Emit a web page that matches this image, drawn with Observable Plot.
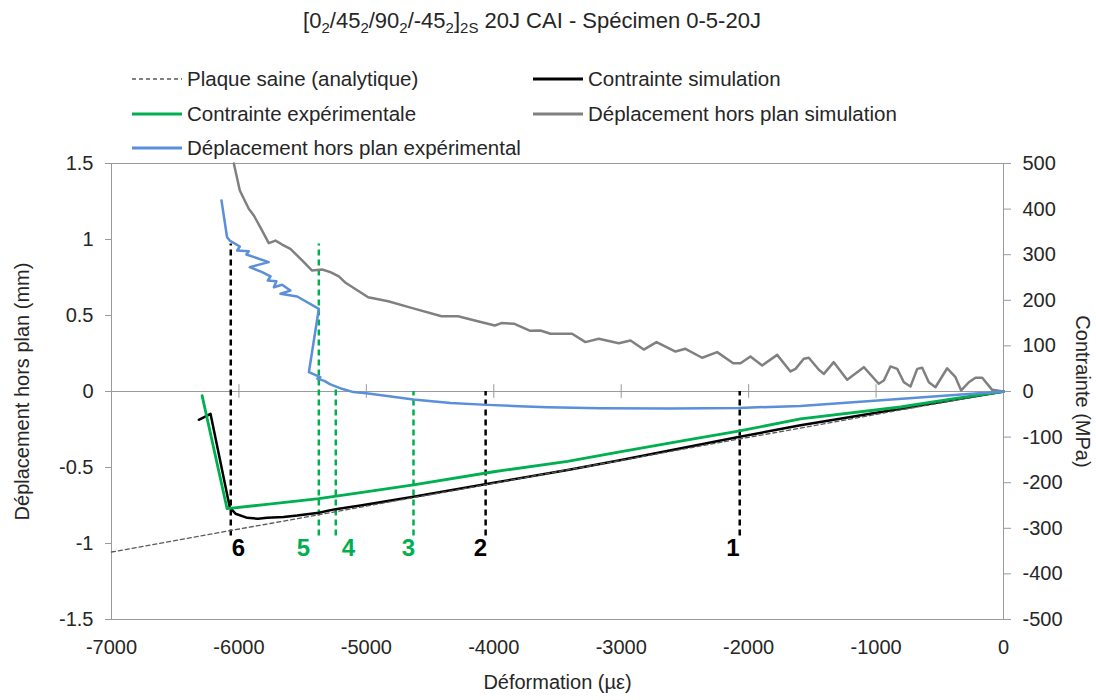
<!DOCTYPE html>
<html><head><meta charset="utf-8">
<script src="https://cdn.jsdelivr.net/npm/d3@7"></script>
<script src="https://cdn.jsdelivr.net/npm/@observablehq/plot@0.6"></script>
<style>
body{margin:0;background:#fff;font-family:"Liberation Sans",Arial,sans-serif;color:#262626;}
#wrap{position:relative;width:1096px;height:700px;overflow:hidden;}
#chart{position:absolute;left:0;top:0;}
#title{position:absolute;left:0;width:1064px;top:8px;text-align:center;font-size:22px;white-space:nowrap;}
#title sub{font-size:15px;vertical-align:-5px;line-height:0;}
.leg{position:absolute;font-size:20.5px;display:flex;align-items:center;white-space:nowrap;height:24px;transform:translateY(-12px);}
.leg svg{margin-right:5px;}
</style></head><body>
<div id="wrap">
<div id="chart"></div>
<div id="title">[0<sub>2</sub>/45<sub>2</sub>/90<sub>2</sub>/-45<sub>2</sub>]<sub>2S</sub> 20J CAI - Spécimen 0-5-20J</div>
<div id="legend"></div>
</div>
<script>
// ---------- data ----------
const xTicks = [-7000, -6000, -5000, -4000, -3000, -2000, -1000, 0];
const dispTicks = [-1.5, -1, -0.5, 0, 0.5, 1, 1.5];
const stressTicks = [-500, -400, -300, -200, -100, 0, 100, 200, 300, 400, 500];

// Plaque saine (analytique) — MPa
const analyticStrain = [-7000, 0];
const analyticStress = [-352, 0];

// Contrainte simulation — MPa
const simStrain = [-6315, -6223, -6072, -6027, -5935, -5850, -5779, -5650, -5543, -5373, -5242, -5046, -4630, -4000, -3421, -3000, -2080, -1593, -808, 0];
const simStress = [-62, -49, -254, -268, -277, -279, -277, -275, -272, -266, -258, -250, -231, -200, -172, -150, -100, -74, -38, 0];

// Contrainte expérimentale — MPa
const expStrain = [-6289, -6093, -5800, -5373, -5046, -4630, -4000, -3421, -3000, -2500, -2080, -1593, -808, -400, 0];
const expStress = [-9, -257, -248, -235, -222, -205, -176, -153, -132, -107, -87, -60, -34, -16, 0];

// Déplacement hors plan simulation — mm
const simDispStrain = [-6040, -5993, -5923, -5883, -5818, -5766, -5713, -5661, -5596, -5504, -5426, -5347, -5282, -5216, -5169, -4986, -4829, -4646, -4410, -4280, -4149, -3992, -3940, -3838, -3718, -3634, -3555, -3385, -3281, -3176, -3019, -2927, -2823, -2723, -2574, -2496, -2365, -2247, -2121, -2064, -1986, -1894, -1776, -1672, -1632, -1567, -1528, -1449, -1410, -1332, -1227, -1096, -979, -939, -887, -834, -782, -730, -677, -638, -586, -534, -442, -377, -332, -272, -220, -167, -89, 0];
const simDisp = [1.5, 1.322, 1.202, 1.158, 1.059, 0.976, 0.993, 0.967, 0.939, 0.862, 0.796, 0.803, 0.785, 0.757, 0.719, 0.62, 0.594, 0.55, 0.495, 0.495, 0.467, 0.434, 0.45, 0.445, 0.40, 0.401, 0.38, 0.38, 0.325, 0.347, 0.318, 0.336, 0.276, 0.325, 0.263, 0.281, 0.222, 0.259, 0.186, 0.186, 0.23, 0.171, 0.241, 0.132, 0.149, 0.215, 0.222, 0.143, 0.116, 0.193, 0.077, 0.16, 0.051, 0.072, 0.165, 0.149, 0.061, 0.033, 0.149, 0.156, 0.061, 0.028, 0.153, 0.094, 0.007, 0.061, 0.09, 0.09, 0.011, 0];

// Déplacement hors plan expérimental — mm
const expDispStrain = [-6137, -6093, -6072, -5993, -6014, -5923, -5941, -5766, -5915, -5818, -5752, -5773, -5706, -5726, -5661, -5596, -5674, -5543, -5373, -5451, -5361, -5385, -5330, -5290, -5258, -5200, -5101, -5000, -4866, -4630, -4340, -4052, -3800, -3581, -3163, -2600, -2080, -1593, -1070, -549, 0];
const expDisp = [1.257, 1.015, 0.993, 0.954, 0.928, 0.923, 0.901, 0.851, 0.818, 0.785, 0.757, 0.730, 0.726, 0.686, 0.702, 0.664, 0.643, 0.625, 0.544, 0.127, 0.094, 0.085, 0.07, 0.05, 0.039, 0.02, -0.004, -0.012, -0.026, -0.052, -0.075, -0.088, -0.097, -0.103, -0.11, -0.112, -0.108, -0.095, -0.064, -0.033, 0];

// Repères 1..6
const markerLabel = ["1", "2", "3", "4", "5", "6"];
const markerStrain = [-2070, -4064, -4630, -5240, -5373, -6064];
const markerTop = [0, 0, 0, 0.02, 0.97, 0.97];
const markerBottom = [-0.95, -0.95, -0.95, -0.95, -0.95, -0.95];
const markerTextStrain = [-2123, -4104, -4670, -5140, -5494, -6004];
const markerSource = ["simulation", "simulation", "expérimental", "expérimental", "expérimental", "simulation"];

// ---------- build ----------
const K = 1000 / 3; // MPa per mm : 500 MPa <-> 1.5 mm
const pts = (xs, ys, f = v => v) => xs.map((x, i) => ({x, y: f(ys[i])}));
const toMm = s => s / K;

const analytic = pts(analyticStrain, analyticStress, toMm);
const sim = pts(simStrain, simStress, toMm);
const exp = pts(expStrain, expStress, toMm);
const simD = pts(simDispStrain, simDisp);
const expD = pts(expDispStrain, expDisp);
const markers = markerLabel.map((l, i) => ({
  label: l, x: markerStrain[i], y1: markerBottom[i], y2: markerTop[i], tx: markerTextStrain[i], src: markerSource[i]
}));
const srcColor = s => s === "simulation" ? "#000000" : "#00b050";

const C = {black: "#000000", green: "#00b050", gray: "#808080", blue: "#5b8fd9", dash: "#595959", axis: "#9a9a9a", text: "#262626"};
const FS = 20;

const chart = Plot.plot({
  width: 1096, height: 700,
  marginLeft: 111, marginRight: 93, marginTop: 163, marginBottom: 81,
  style: {fontFamily: '"Liberation Sans", Arial, sans-serif', fontSize: FS + "px", color: C.text, background: "transparent"},
  x: {domain: [-7000, 0]},
  y: {domain: [-1.5, 1.5]},
  marks: [
    Plot.frame({stroke: C.axis}),
    Plot.ruleY([0], {stroke: C.axis}),
    Plot.ruleX(xTicks.slice(1, -1), {x: d => d, y1: -0.045, y2: 0.045, stroke: C.axis}),
    Plot.axisX(xTicks, {tickSize: 0, tickPadding: 20, tickFormat: d => String(d), label: null, fill: C.text, fontSize: FS}),
    Plot.axisY(dispTicks, {anchor: "left", tickSize: 6, tickPadding: 12, tickFormat: d => String(d), label: null, stroke: C.axis, fill: C.text, fontSize: FS}),
    Plot.axisY(stressTicks.map(toMm), {anchor: "right", tickSize: 7, tickPadding: 12, tickFormat: d => String(Math.round(d * K)), label: null, stroke: C.axis, fill: C.text, fontSize: FS}),
    Plot.ruleX(markers, {x: "x", y1: "y1", y2: "y2", stroke: d => srcColor(d.src), strokeWidth: 2.5, strokeDasharray: "6,4"}),
    Plot.line(sim, {x: "x", y: "y", stroke: C.black, strokeWidth: 2.5}),
    Plot.line(analytic, {x: "x", y: "y", stroke: C.dash, strokeWidth: 1.3, strokeDasharray: "4,3"}),
    Plot.line(exp, {x: "x", y: "y", stroke: C.green, strokeWidth: 2.8}),
    Plot.line(simD, {x: "x", y: "y", stroke: C.gray, strokeWidth: 2.5}),
    Plot.line(expD, {x: "x", y: "y", stroke: C.blue, strokeWidth: 2.5}),
    Plot.text(markers, {x: "tx", y: -1.03, text: "label", fill: d => srcColor(d.src), fontSize: 24, fontWeight: "bold"}),
    Plot.text(["Déformation (µε)"], {frameAnchor: "bottom", dy: 69, textAnchor: "middle", text: d => d, fill: C.text, fontSize: FS}),
    Plot.text(["Déplacement hors plan (mm)"], {frameAnchor: "left", dx: -89, rotate: -90, textAnchor: "middle", text: d => d, fill: C.text, fontSize: FS}),
    Plot.text(["Contrainte (MPa)"], {frameAnchor: "right", dx: 79, rotate: 90, textAnchor: "middle", text: d => d, fill: C.text, fontSize: FS})
  ]
});
document.getElementById("chart").appendChild(chart);

// ---------- legend ----------
const legendItems = [
  {label: "Plaque saine (analytique)", color: C.dash, dash: "4,3", w: 1.5, x: 132, y: 79},
  {label: "Contrainte simulation", color: C.black, dash: null, w: 3, x: 533, y: 79},
  {label: "Contrainte expérimentale", color: C.green, dash: null, w: 3, x: 132, y: 114},
  {label: "Déplacement hors plan simulation", color: C.gray, dash: null, w: 3, x: 533, y: 114},
  {label: "Déplacement hors plan expérimental", color: C.blue, dash: null, w: 3, x: 132, y: 148}
];
const leg = document.getElementById("legend");
for (const it of legendItems) {
  const div = document.createElement("div");
  div.className = "leg";
  div.style.left = it.x + "px";
  div.style.top = it.y + "px";
  div.innerHTML = `<svg width="50" height="10"><line x1="0" y1="5" x2="50" y2="5" stroke="${it.color}" stroke-width="${it.w}" ${it.dash ? `stroke-dasharray="${it.dash}"` : ""}/></svg><span>${it.label}</span>`;
  leg.appendChild(div);
}
</script>
</body></html>
